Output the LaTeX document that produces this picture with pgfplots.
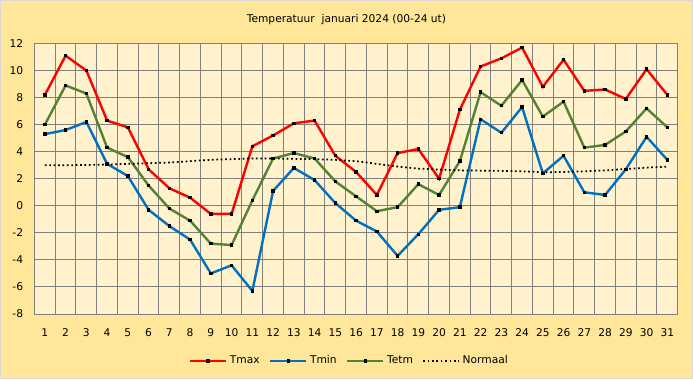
\documentclass[border=0pt]{standalone}
\usepackage{pgfplots}
\pgfplotsset{compat=1.18}
\usepackage{pgfplotstable}
\usepackage{fontspec}
\setmainfont{DejaVu Sans}
\definecolor{outerbg}{HTML}{FFE699}
\definecolor{plotbg}{HTML}{FFF2CC}
\definecolor{tmaxc}{HTML}{FF0000}
\definecolor{tminc}{HTML}{0070C0}
\definecolor{tetmc}{HTML}{548235}
\definecolor{gridc}{HTML}{808080}
\definecolor{borderc}{HTML}{D9D9D9}

\pgfplotstableread{
day tmax tmin tetm norm
1  8.2  5.3  6.0 3.00
2  11.1 5.6  8.9 3.00
3  10.0 6.2  8.3 3.02
4  6.3  3.1  4.3 3.05
5  5.8  2.2  3.6 3.10
6  2.7  -0.3 1.5 3.15
7  1.3  -1.5 -0.2 3.20
8  0.6  -2.5 -1.1 3.30
9  -0.6 -5.0 -2.8 3.40
10 -0.6 -4.4 -2.9 3.45
11 4.4  -6.3 0.4 3.50
12 5.2  1.1  3.5 3.50
13 6.1  2.8  3.9 3.47
14 6.3  1.9  3.5 3.45
15 3.7  0.2  1.8 3.40
16 2.5  -1.1 0.7 3.30
17 0.8  -1.9 -0.4 3.10
18 3.9  -3.7 -0.1 2.90
19 4.2  -2.1 1.6 2.75
20 2.0  -0.3 0.8 2.68
21 7.1  -0.1 3.3 2.62
22 10.3 6.4  8.4 2.60
23 10.9 5.4  7.4 2.58
24 11.7 7.3  9.3 2.55
25 8.8  2.4  6.6 2.48
26 10.8 3.7  7.7 2.50
27 8.5  1.0  4.3 2.55
28 8.6  0.8  4.5 2.62
29 7.9  2.7  5.5 2.72
30 10.1 5.1  7.2 2.82
31 8.2  3.4  5.8 2.90
}\data

\begin{document}
\begin{tikzpicture}
\fill[outerbg] (-25.875pt,-48.75pt) rectangle (493.875pt,235.5pt);
\begin{axis}[
  at={(0pt,0pt)}, anchor=south west,
  scale only axis, width=482.4pt, height=202.875pt,
  xmin=0.5, xmax=31.5, ymin=-8, ymax=12,
  ytick={-8,-6,...,12},
  xtick={1,...,31},
  minor xtick={0.5,1.5,...,31.5},
  ymajorgrids, xminorgrids,
  major grid style={draw=gridc, line width=0.75pt},
  minor grid style={draw=gridc, line width=0.75pt},
  axis line style={draw=none},
  major tick length=0pt, minor tick length=0pt,
  axis background/.style={fill=plotbg},
  tick label style={font=\fontsize{8}{9.6}\selectfont},
  /pgf/number format/assume math mode=true,
  xticklabel style={yshift=-7.5pt},
  yticklabel style={xshift=-5pt},
  title={Temperatuur\ \ januari 2024 (00-24 ut)},
  title style={at={(0.485,1)}, anchor=center, yshift=11.6pt, font=\fontsize{8}{9.6}\selectfont},
  legend columns=4,
  legend style={at={(0.49,-0.173)}, anchor=center, draw=none, fill=none,
    font=\fontsize{8}{9.6}\selectfont,
    /tikz/every even column/.append style={column sep=5pt}},
  legend image code/.code={
    \draw[mark repeat=2,mark phase=2] plot coordinates {(0pt,0pt) (13.5pt,0pt) (27pt,0pt)};},
  every axis plot/.append style={line width=1.8pt, mark=square*, mark size=0.9pt, mark options={fill=black, draw=black, line width=0pt}},
]
\addplot[tmaxc] table[x=day,y=tmax] {\data};
\addlegendentry{Tmax}
\addplot[tminc] table[x=day,y=tmin] {\data};
\addlegendentry{Tmin}
\addplot[tetmc] table[x=day,y=tetm] {\data};
\addlegendentry{Tetm}
\addplot[black, line width=1.3pt, dotted, no markers] table[x=day,y=norm] {\data};
\addlegendentry{Normaal}
\end{axis}
\draw[borderc, line width=0.75pt] (-25.5pt,-48.375pt) rectangle (493.5pt,235.125pt);
\pgfresetboundingbox
\useasboundingbox (-25.875pt,-48.75pt) rectangle (493.875pt,235.5pt);
\end{tikzpicture}
\end{document}
